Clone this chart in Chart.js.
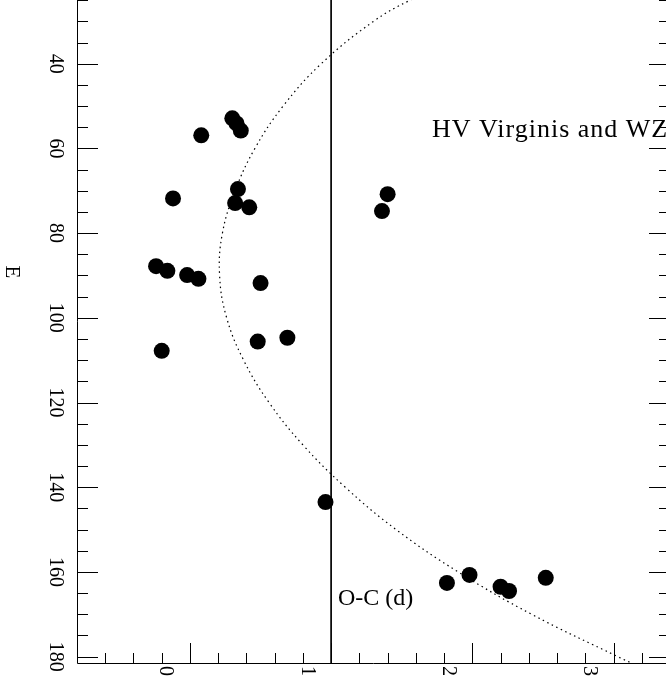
<!DOCTYPE html>
<html>
<head>
<meta charset="utf-8">
<script src="https://cdn.jsdelivr.net/npm/chart.js@4.4.1/dist/chart.umd.min.js"></script>
<style>
  html, body { margin: 0; padding: 0; background: #fff; overflow: hidden; }
  #wrap { position: relative; width: 666px; height: 676px; overflow: hidden; }
  #oc { position: absolute; left: 0; top: -21px; }
</style>
</head>
<body>
<div id="wrap"><canvas id="oc" width="670" height="697"></canvas></div>
<script>
// observed timings: O-C (days) against cycle number E
const ocObs = [0.50, 0.53, 0.56, 0.28, 0.08, 0.54, 0.52, 0.62, 1.60, 1.56,
               -0.04, 0.04, 0.18, 0.26, 0.70, 0.68, 0.89, 0.00, 1.16,
               2.02, 2.18, 2.40, 2.46, 2.72];
const eObs = [52.9, 54.1, 55.8, 56.9, 71.8, 69.6, 72.9, 73.9, 70.8, 74.8,
              87.8, 88.9, 89.9, 90.8, 91.8, 105.6, 104.7, 107.8, 143.5,
              162.6, 160.7, 163.5, 164.5, 161.4];

// dotted fit
const eFit = [20, 25, 30, 40, 50, 60, 70, 80, 90, 100, 110, 120, 130, 140, 150, 160, 170, 180, 182];
const ocFit = [2.10, 1.76, 1.50, 1.13, 0.86, 0.66, 0.52, 0.43, 0.41, 0.46, 0.58, 0.76, 1.00, 1.30, 1.66, 2.10, 2.62, 3.23, 3.36];

// vertical reference line
const ocRef = 1.2;

const xTickLabels = [0, 1, 2, 3];
const yTickLabels = [40, 60, 80, 100, 120, 140, 160, 180];

const X_MIN = -0.6, X_MAX = 3.6;
const Y_MIN = 20, Y_MAX = 181.5;

const serif = '"Liberation Serif", "Times New Roman", serif';

const frame = {
  id: 'frame',
  afterDraw(chart) {
    const ctx = chart.ctx;
    const a = chart.chartArea;
    const xs = chart.scales.x, ys = chart.scales.y;
    ctx.save();
    ctx.strokeStyle = '#000';
    ctx.lineWidth = 1;
    ctx.beginPath();
    // box
    ctx.moveTo(a.left + 0.5, a.top);
    ctx.lineTo(a.left + 0.5, a.bottom + 0.5);
    ctx.lineTo(a.right - 0.5, a.bottom + 0.5);
    ctx.lineTo(a.right - 0.5, a.top);
    // y ticks every 5, long every 20
    for (let v = 25; v <= 180; v += 5) {
      const py = Math.round(ys.getPixelForValue(v)) + 0.5;
      const len = v % 20 === 0 ? 21 : 11;
      ctx.moveTo(a.left, py); ctx.lineTo(a.left + len, py);
      ctx.moveTo(a.right, py); ctx.lineTo(a.right - len, py);
    }
    // x ticks every 0.2, long at n + 0.2
    for (let i = -2; i <= 17; i++) {
      const v = i * 0.2;
      const px = Math.round(xs.getPixelForValue(v)) + 0.5;
      const len = ((i - 1) % 5 === 0) ? 20 : 10;
      ctx.moveTo(px, a.bottom); ctx.lineTo(px, a.bottom - len);
    }
    ctx.stroke();

    ctx.fillStyle = '#000';
    ctx.font = '20px ' + serif;
    ctx.textBaseline = 'middle';
    ctx.textAlign = 'center';
    yTickLabels.forEach(v => {
      ctx.save();
      ctx.translate(55, ys.getPixelForValue(v));
      ctx.rotate(Math.PI / 2);
      ctx.fillText(String(v), 0, 0);
      ctx.restore();
    });
    ctx.textAlign = 'left';
    xTickLabels.forEach(v => {
      ctx.save();
      ctx.translate(xs.getPixelForValue(v) + 4, a.bottom + 3);
      ctx.rotate(Math.PI / 2);
      ctx.fillText(String(v), 0, 0);
      ctx.restore();
    });
    // axis title
    ctx.save();
    ctx.textAlign = 'center';
    ctx.font = '21px ' + serif;
    ctx.translate(12, 272 + 21);
    ctx.rotate(Math.PI / 2);
    ctx.fillText('E', 0, 0);
    ctx.restore();

    ctx.textBaseline = 'alphabetic';
    ctx.font = '24px ' + serif;
    ctx.fillText('O-C (d)', 338, 605 + 21);
    ctx.font = '26px ' + serif;
    ctx.letterSpacing = '1px';
    ctx.fillText('HV Virginis and WZ Sge', 432, 137 + 21);
    ctx.restore();
  }
};

new Chart(document.getElementById('oc'), {
  type: 'scatter',
  data: {
    datasets: [
      {
        data: eObs.map((e, i) => ({ x: ocObs[i], y: e })),
        backgroundColor: '#000',
        borderColor: '#000',
        pointRadius: 8,
        pointHoverRadius: 8,
        borderWidth: 0
      },
      {
        type: 'line',
        data: eFit.map((e, i) => ({ x: ocFit[i], y: e })),
        borderColor: '#000',
        borderWidth: 1.2,
        borderDash: [1.5, 3.5],
        pointRadius: 0,
        tension: 0.4,
        fill: false
      },
      {
        type: 'line',
        data: [{ x: ocRef, y: Y_MIN }, { x: ocRef, y: Y_MAX }],
        borderColor: '#000',
        borderWidth: 1,
        pointRadius: 0
      }
    ]
  },
  options: {
    responsive: false,
    animation: false,
    devicePixelRatio: 1,
    layout: { autoPadding: false, padding: { left: 77, right: 0, top: 0, bottom: 13 } },
    plugins: { legend: { display: false }, tooltip: { enabled: false } },
    scales: {
      x: { type: 'linear', min: X_MIN, max: X_MAX, display: false },
      y: { type: 'linear', min: Y_MIN, max: Y_MAX, reverse: true, display: false }
    }
  },
  plugins: [frame]
});
</script>
</body>
</html>
